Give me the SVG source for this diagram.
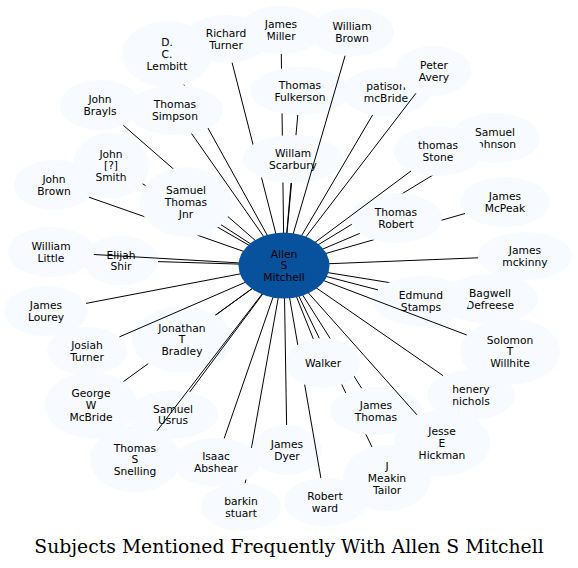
<svg xmlns="http://www.w3.org/2000/svg" width="578" height="568" viewBox="0 0 578 568">
<style>
.node ellipse{fill:#f7fbff;stroke:none}
.node text{font-family:"DejaVu Sans",sans-serif;font-size:10.7px;fill:#000;text-anchor:middle}
#center ellipse{fill:#08519c}
#connectors line{stroke:#000;stroke-width:1}
.title{font-family:"DejaVu Serif",serif;font-size:18.8px;fill:#000;text-anchor:middle}
</style>
<defs>
<mask id="mk-simpson" maskUnits="userSpaceOnUse" x="0" y="0" width="578" height="568"><rect width="578" height="568" fill="#fff"/><ellipse cx="175" cy="110" rx="48" ry="25" fill="#000"/></mask>
<mask id="mk-fulk-scar" maskUnits="userSpaceOnUse" x="0" y="0" width="578" height="568"><rect width="578" height="568" fill="#fff"/><ellipse cx="300" cy="91" rx="50" ry="24" fill="#000"/><ellipse cx="293" cy="159" rx="50" ry="24" fill="#000"/></mask>
<mask id="mk-scar" maskUnits="userSpaceOnUse" x="0" y="0" width="578" height="568"><rect width="578" height="568" fill="#fff"/><ellipse cx="293" cy="159" rx="50" ry="24" fill="#000"/></mask>
<mask id="mk-stj" maskUnits="userSpaceOnUse" x="0" y="0" width="578" height="568"><rect width="578" height="568" fill="#fff"/><ellipse cx="186" cy="202" rx="46" ry="35" fill="#000"/></mask>
<mask id="mk-stone-robert" maskUnits="userSpaceOnUse" x="0" y="0" width="578" height="568"><rect width="578" height="568" fill="#fff"/><ellipse cx="438" cy="151" rx="44.5" ry="25" fill="#000"/><ellipse cx="396" cy="218" rx="46" ry="25" fill="#000"/></mask>
<mask id="mk-robert" maskUnits="userSpaceOnUse" x="0" y="0" width="578" height="568"><rect width="578" height="568" fill="#fff"/><ellipse cx="396" cy="218" rx="46" ry="25" fill="#000"/></mask>
<mask id="mk-edmund" maskUnits="userSpaceOnUse" x="0" y="0" width="578" height="568"><rect width="578" height="568" fill="#fff"/><ellipse cx="421" cy="301" rx="48" ry="25" fill="#000"/></mask>
<mask id="mk-jthomas-walker" maskUnits="userSpaceOnUse" x="0" y="0" width="578" height="568"><rect width="578" height="568" fill="#fff"/><ellipse cx="376" cy="411" rx="46" ry="24" fill="#000"/><ellipse cx="323" cy="363" rx="37" ry="25" fill="#000"/></mask>
<mask id="mk-walker" maskUnits="userSpaceOnUse" x="0" y="0" width="578" height="568"><rect width="578" height="568" fill="#fff"/><ellipse cx="323" cy="363" rx="37" ry="25" fill="#000"/></mask>
<mask id="mk-dyer-isaac" maskUnits="userSpaceOnUse" x="0" y="0" width="578" height="568"><rect width="578" height="568" fill="#fff"/><ellipse cx="287" cy="450" rx="35" ry="25" fill="#000"/><ellipse cx="216" cy="462" rx="44" ry="24" fill="#000"/></mask>
<mask id="mk-bradley" maskUnits="userSpaceOnUse" x="0" y="0" width="578" height="568"><rect width="578" height="568" fill="#fff"/><ellipse cx="182" cy="339.5" rx="50" ry="33" fill="#000"/></mask>
</defs>
<rect width="578" height="568" fill="#fff"/>

<g id="nodes">
<g id="n-lembitt" class="node"><ellipse cx="167" cy="54" rx="45" ry="33"/><text><tspan x="167" y="46.1">D.</tspan><tspan x="167" y="57.8">C.</tspan><tspan x="167" y="69.5">Lembitt</tspan></text></g>
<g id="n-miller" class="node"><ellipse cx="281" cy="30" rx="42" ry="24"/><text><tspan x="281" y="28">James</tspan><tspan x="281" y="39.7">Miller</tspan></text></g>
<g id="n-turner" class="node"><ellipse cx="226" cy="39" rx="42" ry="24"/><text><tspan x="226" y="37">Richard</tspan><tspan x="226" y="48.7">Turner</tspan></text></g>
<g id="n-fulkerson" class="node"><ellipse cx="300" cy="91" rx="50" ry="24"/><text><tspan x="300" y="89">Thomas</tspan><tspan x="300" y="100.7">Fulkerson</tspan></text></g>
<g id="n-simpson" class="node"><ellipse cx="175" cy="110" rx="48" ry="25"/><text><tspan x="175" y="108">Thomas</tspan><tspan x="175" y="119.7">Simpson</tspan></text></g>
<g id="n-brayls" class="node"><ellipse cx="100" cy="105" rx="40" ry="25"/><text><tspan x="100" y="103">John</tspan><tspan x="100" y="114.7">Brayls</tspan></text></g>
<g id="n-smith" class="node"><ellipse cx="111" cy="165.5" rx="38" ry="33"/><text><tspan x="111" y="157.6">John</tspan><tspan x="111" y="169.3">[?]</tspan><tspan x="111" y="181">Smith</tspan></text></g>
<g id="n-jbrown" class="node"><ellipse cx="54" cy="185" rx="40" ry="25"/><text><tspan x="54" y="183">John</tspan><tspan x="54" y="194.7">Brown</tspan></text></g>
<g id="n-stj" class="node"><ellipse cx="186" cy="202" rx="46" ry="35"/><text><tspan x="186" y="194.1">Samuel</tspan><tspan x="186" y="205.8">Thomas</tspan><tspan x="186" y="217.5">Jnr</tspan></text></g>
<g id="n-scarbury" class="node"><ellipse cx="293" cy="159" rx="50" ry="24"/><text><tspan x="293" y="157">Willam</tspan><tspan x="293" y="168.7">Scarbury</tspan></text></g>
<g id="n-wbrown" class="node"><ellipse cx="352" cy="32" rx="42" ry="24"/><text><tspan x="352" y="30">William</tspan><tspan x="352" y="41.7">Brown</tspan></text></g>
<g id="n-patison" class="node"><ellipse cx="386" cy="92" rx="44" ry="24"/><text><tspan x="386" y="90">patison</tspan><tspan x="386" y="101.7">mcBride</tspan></text></g>
<g id="n-avery" class="node"><ellipse cx="433" cy="71" rx="38" ry="25"/><text><tspan x="434" y="69">Peter</tspan><tspan x="434" y="80.7">Avery</tspan></text></g>
<g id="n-johnson" class="node"><ellipse cx="495" cy="138" rx="45" ry="25"/><text><tspan x="495" y="136">Samuel</tspan><tspan x="495" y="147.7">Johnson</tspan></text></g>
<g id="n-stone" class="node"><ellipse cx="438" cy="151" rx="44.5" ry="25"/><text><tspan x="438" y="149">thomas</tspan><tspan x="438" y="160.7">Stone</tspan></text></g>
<g id="n-mcpeak" class="node"><ellipse cx="505" cy="202" rx="45" ry="25"/><text><tspan x="505" y="200">James</tspan><tspan x="505" y="211.7">McPeak</tspan></text></g>
<g id="n-trobert" class="node"><ellipse cx="396" cy="218" rx="46" ry="25"/><text><tspan x="396" y="216">Thomas</tspan><tspan x="396" y="227.7">Robert</tspan></text></g>
<g id="n-mckinny" class="node"><ellipse cx="525" cy="256" rx="47" ry="24"/><text><tspan x="525" y="254">James</tspan><tspan x="525" y="265.7">mckinny</tspan></text></g>
<g id="n-bagwell" class="node"><ellipse cx="490" cy="299" rx="48" ry="25"/><text><tspan x="490" y="297">Bagwell</tspan><tspan x="490" y="308.7">Defreese</tspan></text></g>
<g id="n-edmund" class="node"><ellipse cx="421" cy="301" rx="48" ry="25"/><text><tspan x="421" y="299">Edmund</tspan><tspan x="421" y="310.7">Stamps</tspan></text></g>
<g id="n-solomon" class="node"><ellipse cx="510" cy="351.5" rx="50" ry="33"/><text><tspan x="510" y="343.6">Solomon</tspan><tspan x="510" y="355.3">T</tspan><tspan x="510" y="367">Willhite</tspan></text></g>
<g id="n-henery" class="node"><ellipse cx="471" cy="395" rx="44" ry="25"/><text><tspan x="471" y="393">henery</tspan><tspan x="471" y="404.7">nichols</tspan></text></g>
<g id="n-meakin" class="node"><ellipse cx="387" cy="478" rx="44" ry="33"/><text><tspan x="387" y="470.1">J</tspan><tspan x="387" y="481.8">Meakin</tspan><tspan x="387" y="493.5">Tailor</tspan></text></g>
<g id="n-jthomas" class="node"><ellipse cx="376" cy="411" rx="46" ry="24"/><text><tspan x="376" y="409">James</tspan><tspan x="376" y="420.7">Thomas</tspan></text></g>
<g id="n-jesse" class="node"><ellipse cx="442" cy="443" rx="48" ry="33"/><text><tspan x="442" y="435.1">Jesse</tspan><tspan x="442" y="446.8">E</tspan><tspan x="442" y="458.5">Hickman</tspan></text></g>
<g id="n-barkin" class="node"><ellipse cx="241" cy="507" rx="40" ry="24"/><text><tspan x="241" y="505">barkin</tspan><tspan x="241" y="516.7">stuart</tspan></text></g>
<g id="n-dyer" class="node"><ellipse cx="287" cy="450" rx="35" ry="25"/><text><tspan x="287" y="448">James</tspan><tspan x="287" y="459.7">Dyer</tspan></text></g>
<g id="n-rward" class="node"><ellipse cx="325" cy="502" rx="41" ry="24"/><text><tspan x="325" y="500">Robert</tspan><tspan x="325" y="511.7">ward</tspan></text></g>
<g id="n-walker" class="node"><ellipse cx="323" cy="363" rx="37" ry="25"/><text><tspan x="323" y="366.8">Walker</tspan></text></g>
<g id="n-isaac" class="node"><ellipse cx="216" cy="462" rx="44" ry="24"/><text><tspan x="216" y="460">Isaac</tspan><tspan x="216" y="471.7">Abshear</tspan></text></g>
<g id="n-george" class="node"><ellipse cx="91" cy="405" rx="46" ry="33"/><text><tspan x="91" y="397.1">George</tspan><tspan x="91" y="408.8">W</tspan><tspan x="91" y="420.5">McBride</tspan></text></g>
<g id="n-bradley" class="node"><ellipse cx="182" cy="339.5" rx="50" ry="33"/><text><tspan x="182" y="331.6">Jonathan</tspan><tspan x="182" y="343.3">T</tspan><tspan x="182" y="355">Bradley</tspan></text></g>
<g id="n-josiah" class="node"><ellipse cx="87" cy="351" rx="40" ry="24"/><text><tspan x="87" y="349">Josiah</tspan><tspan x="87" y="360.7">Turner</tspan></text></g>
<g id="n-usrus" class="node"><ellipse cx="173" cy="414.5" rx="45" ry="24"/><text><tspan x="173" y="412.5">Samuel</tspan><tspan x="173" y="424.2">Usrus</tspan></text></g>
<g id="n-snelling" class="node"><ellipse cx="135" cy="459.5" rx="45" ry="33"/><text><tspan x="135" y="451.6">Thomas</tspan><tspan x="135" y="463.3">S</tspan><tspan x="135" y="475">Snelling</tspan></text></g>
<g id="n-lourey" class="node"><ellipse cx="46" cy="311" rx="42" ry="25"/><text><tspan x="46" y="309">James</tspan><tspan x="46" y="320.7">Lourey</tspan></text></g>
<g id="n-elijah" class="node"><ellipse cx="121" cy="260.5" rx="37" ry="25"/><text><tspan x="121" y="258.5">Elijah</tspan><tspan x="121" y="270.2">Shir</tspan></text></g>
<g id="n-wlittle" class="node"><ellipse cx="51" cy="252" rx="43" ry="25"/><text><tspan x="51" y="250">William</tspan><tspan x="51" y="261.7">Little</tspan></text></g>
</g>

<g id="connectors">
<line x1="284" y1="265.5" x2="183.9" y2="84.6" mask="url(#mk-simpson)"/>
<line x1="284" y1="265.5" x2="281.3" y2="54" mask="url(#mk-fulk-scar)"/>
<line x1="284" y1="265.5" x2="232.1" y2="62.7" mask="url(#mk-scar)"/>
<line x1="284" y1="265.5" x2="297.8" y2="115" mask="url(#mk-scar)"/>
<line x1="284" y1="265.5" x2="191.5" y2="133.5"/>
<line x1="284" y1="265.5" x2="123.3" y2="125.3" mask="url(#mk-stj)"/>
<line x1="284" y1="265.5" x2="142.6" y2="183.8" mask="url(#mk-stj)"/>
<line x1="284" y1="265.5" x2="88.9" y2="197.2" mask="url(#mk-stj)"/>
<line x1="284" y1="265.5" x2="221" y2="224.7"/>
<line x1="284" y1="265.5" x2="291" y2="183"/>
<line x1="284" y1="265.5" x2="345.1" y2="55.7"/>
<line x1="284" y1="265.5" x2="372.6" y2="114.9"/>
<line x1="284" y1="265.5" x2="415.9" y2="93.3"/>
<line x1="284" y1="265.5" x2="463.6" y2="156.4" mask="url(#mk-stone-robert)"/>
<line x1="284" y1="265.5" x2="411" y2="171"/>
<line x1="284" y1="265.5" x2="465" y2="213.5" mask="url(#mk-robert)"/>
<line x1="284" y1="265.5" x2="359.7" y2="233.4"/>
<line x1="284" y1="265.5" x2="478.1" y2="257.8"/>
<line x1="284" y1="265.5" x2="444.2" y2="291.5" mask="url(#mk-edmund)"/>
<line x1="284" y1="265.5" x2="378" y2="289.9"/>
<line x1="284" y1="265.5" x2="466.7" y2="335"/>
<line x1="284" y1="265.5" x2="443.1" y2="375.7"/>
<line x1="284" y1="265.5" x2="372" y2="447" mask="url(#mk-jthomas-walker)"/>
<line x1="284" y1="265.5" x2="361.6" y2="388.2" mask="url(#mk-walker)"/>
<line x1="284" y1="265.5" x2="416.9" y2="414.8"/>
<line x1="284" y1="265.5" x2="245.2" y2="483.1" mask="url(#mk-dyer-isaac)"/>
<line x1="284" y1="265.5" x2="286.6" y2="425"/>
<line x1="284" y1="265.5" x2="320.9" y2="478.1" mask="url(#mk-walker)"/>
<line x1="284" y1="265.5" x2="313.3" y2="338.9"/>
<line x1="284" y1="265.5" x2="224.2" y2="438.4"/>
<line x1="284" y1="265.5" x2="123.4" y2="381.6" mask="url(#mk-bradley)"/>
<line x1="284" y1="265.5" x2="215.7" y2="315.1"/>
<line x1="284" y1="265.5" x2="119.4" y2="336.9"/>
<line x1="284" y1="265.5" x2="189.7" y2="392"/>
<line x1="284" y1="265.5" x2="157.1" y2="430.7"/>
<line x1="284" y1="265.5" x2="86" y2="303.4"/>
<line x1="284" y1="265.5" x2="158" y2="261.6"/>
<line x1="284" y1="265.5" x2="93.8" y2="254.5"/>
</g>

<g id="center" class="node"><ellipse cx="284" cy="265.5" rx="45.5" ry="33"/><text><tspan x="284" y="257.6">Allen</tspan><tspan x="284" y="269.3">S</tspan><tspan x="284" y="281">Mitchell</tspan></text></g>

<text class="title" x="289" y="553">Subjects Mentioned Frequently With Allen S Mitchell</text>
</svg>
